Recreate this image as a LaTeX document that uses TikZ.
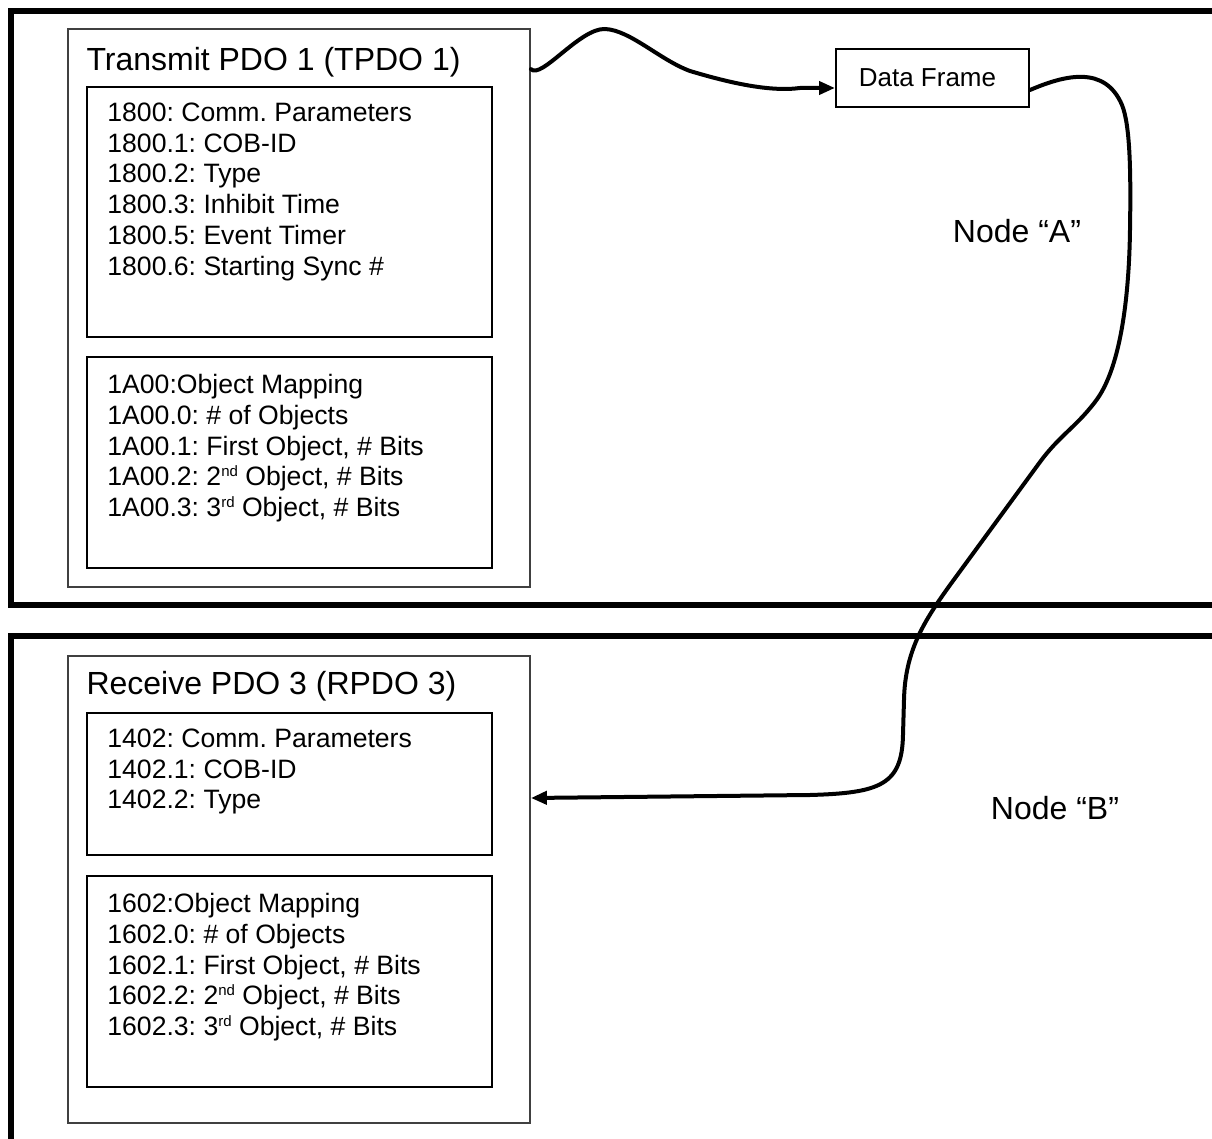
\documentclass[tikz,border=0pt]{standalone}
\usepackage{fontspec}
\setmainfont{Liberation Sans}
\frenchspacing
\usetikzlibrary{arrows.meta, positioning, calc}
\newcommand{\ordsup}[1]{\raisebox{0.34em}{\fontsize{7.5}{7.5}\selectfont #1}}
\tikzset{
    box/.style={rectangle, draw, line width=1pt, inner sep=0pt},
    wire/.style={line width=2pt, line cap=round, -{Triangle[length=8pt,width=6.5pt]}}
}

\begin{document}
\begin{tikzpicture}[
    x=0.5pt, y=-0.5pt,
    node distance=9pt,
    frameline/.style={line width=3pt},
    pdobox/.style={box, draw=black!75, line width=0.9pt, minimum width=231pt, minimum height=279pt},
    listbox/.style={box, minimum width=202.5pt},
    listtext/.style={anchor=north west, inner sep=0pt, align=left, font=\fontsize{13.3}{15.4}\selectfont},
    pdotitle/.style={anchor=base west, inner sep=0pt, font=\fontsize{16}{19}\selectfont},
    nodelabel/.style={font=\fontsize{16}{19}\selectfont}
]

    % Page
    \path[use as bounding box, fill=white] (0,0) rectangle (1212,1139);

    % Node frames
    \draw[frameline] (1212,11.5) -- (11,11.5) -- (11,605.5) -- (1212,605.5);
    \draw[frameline] (1212,636) -- (11,636) -- (11,1139);

    % Transmit PDO
    \node (tpdo) [pdobox] at (299,308) {};
    \node (tpdotitle) [pdotitle] at ([xshift=9.5pt, yshift=-21pt]tpdo.north west) {Transmit PDO 1 (TPDO 1)};
    \node (txcomm) [listbox, minimum height=125pt] at (289.5,212) {};
    \node (txmap) [listbox, minimum height=105.5pt, below=9pt of txcomm] {};
    \node (txcommtext) [listtext] at ([xshift=10.5pt, yshift=-8.2pt]txcomm.north west)
        {1800: Comm. Parameters\\1800.1: COB-ID\\1800.2: Type\\1800.3: Inhibit Time\\1800.5: Event Timer\\1800.6: Starting Sync \#};
    \node (txmaptext) [listtext] at ([xshift=10.5pt, yshift=-8.9pt]txmap.north west)
        {1A00:Object Mapping\\1A00.0: \# of Objects\\1A00.1: First Object, \# Bits\\1A00.2: 2\ordsup{nd} Object, \# Bits\\1A00.3: 3\ordsup{rd} Object, \# Bits};

    % Receive PDO
    \node (rpdo) [pdobox, minimum height=233.5pt] at (299,889.5) {};
    \node (rpdotitle) [pdotitle] at ([xshift=9.5pt, yshift=-19.5pt]rpdo.north west) {Receive PDO 3 (RPDO 3)};
    \node (rxcomm) [listbox, minimum height=71pt] at (289.5,784) {};
    \node (rxmap) [listbox, minimum height=105.5pt, below=9.5pt of rxcomm] {};
    \node (rxcommtext) [listtext] at ([xshift=10.5pt, yshift=-8.2pt]rxcomm.north west)
        {1402: Comm. Parameters\\1402.1: COB-ID\\1402.2: Type};
    \node (rxmaptext) [listtext] at ([xshift=10.5pt, yshift=-8.9pt]rxmap.north west)
        {1602:Object Mapping\\1602.0: \# of Objects\\1602.1: First Object, \# Bits\\1602.2: 2\ordsup{nd} Object, \# Bits\\1602.3: 3\ordsup{rd} Object, \# Bits};

    % Data frame on the bus
    \node (frame) [box, minimum width=96.5pt, minimum height=29pt, font=\fontsize{13}{15}\selectfont] at (932.5,78) {\hspace*{-5pt}Data Frame};

    % Node labels
    \node (nodea) [nodelabel] at (1017,231) {Node “A”};
    \node (nodeb) [nodelabel] at (1055,808) {Node “B”};

    % Transmit -> frame -> receive
    \draw[wire] ([yshift=-20.5pt]tpdo.north east) .. controls (541,80) and (580,28) .. (605,29)
        .. controls (630,30) and (660,60) .. (690,71) .. controls (730,83) and (770,92) .. (800,88)
        -- ([yshift=-5pt]frame.west);
    \draw[wire] ([yshift=-6pt]frame.east) .. controls (1065,75) and (1105,65) .. (1122,105)
        .. controls (1130,125) and (1131,170) .. (1130,230) .. controls (1129,300) and (1120,370) .. (1095,402)
        .. controls (1075,428) and (1060,435) .. (1040,462) -- (950,585)
        .. controls (925,620) and (905,650) .. (904,700) -- (903,735)
        .. controls (902,785) and (880,793) .. (810,795) -- ([yshift=45.75pt]rpdo.east);

\end{tikzpicture}
\end{document}
